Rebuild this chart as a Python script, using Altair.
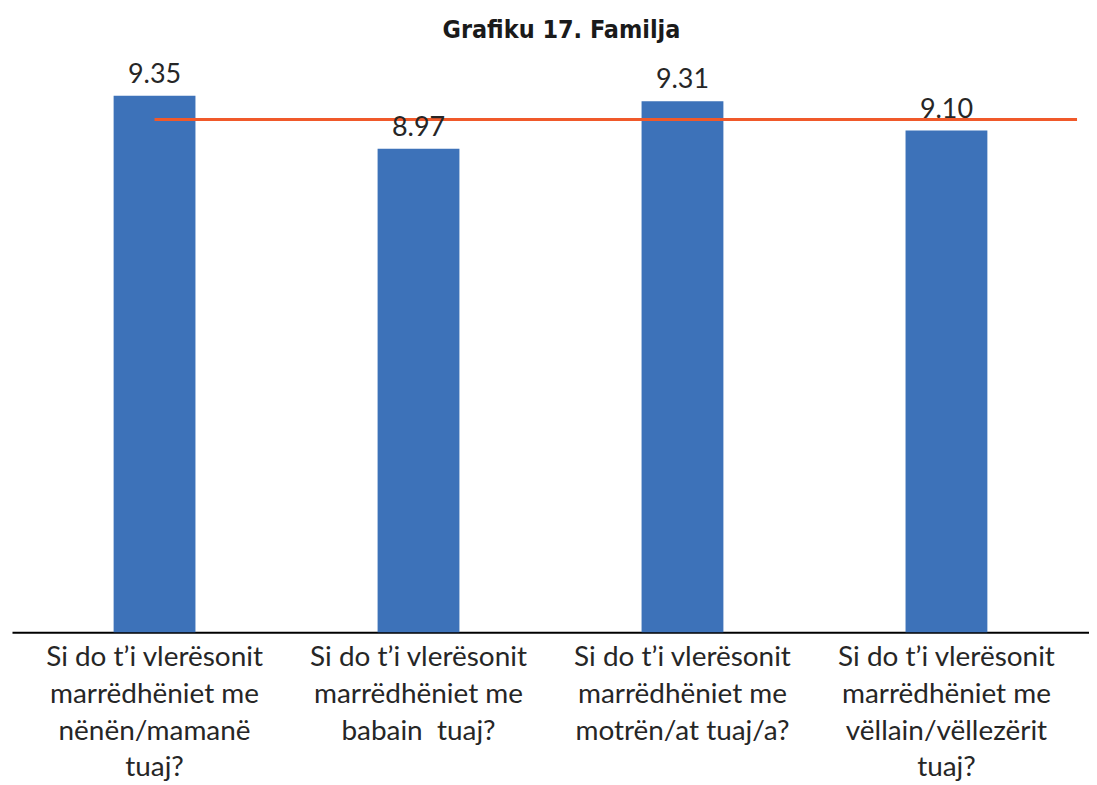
import altair as alt
import pandas as pd

categories = [
    "Si do t’i vlerësonit\nmarrëdhëniet me\nnënën/mamanë\ntuaj?",
    "Si do t’i vlerësonit\nmarrëdhëniet me\nbabain\u00a0 tuaj?",
    "Si do t’i vlerësonit\nmarrëdhëniet me\nmotrën/at tuaj/a?",
    "Si do t’i vlerësonit\nmarrëdhëniet me\nvëllain/vëllezërit\ntuaj?",
]
values = [9.35, 8.97, 9.31, 9.10]
average_level = 9.18
title_text = "Grafiku 17. Familja"

df = pd.DataFrame({"cat": categories, "value": values})
avg_df = pd.DataFrame({"cat": [categories[0]], "avg": [average_level]})

W, H = 1080, 573
y_min, y_max = 5.5, 9.6
y_scale = alt.Scale(domain=[y_min, y_max], zero=False, nice=False)
x_scale = alt.Scale(domain=categories, paddingInner=0.69, paddingOuter=0.385)

x_enc = alt.X(
    "cat:N",
    sort=categories,
    scale=x_scale,
    axis=alt.Axis(
        title=None,
        labelAngle=0,
        labelExpr="split(datum.label, '\\n')",
        labelFont="Lato",
        labelFontSize=28,
        labelColor="#262626",
        labelLineHeight=37,
        labelPadding=11,
        labelLimit=0,
        labelOverlap=False,
        ticks=False,
        grid=False,
        domainColor="#000000",
        domainWidth=2,
    ),
)

bars = alt.Chart(df).mark_bar(color="#3D72B9").encode(
    x=x_enc,
    y=alt.Y("value:Q", scale=y_scale, axis=None),
    y2=alt.Y2(datum=y_min),
)

labels = alt.Chart(df).mark_text(
    baseline="bottom", dy=-7, font="Lato", fontSize=27, color="#262626"
).encode(
    x=alt.X("cat:N", sort=categories, scale=x_scale),
    y=alt.Y("value:Q", scale=y_scale),
    text=alt.Text("value:Q", format=".2f"),
)

avg_rule = alt.Chart(avg_df).mark_rule(color="#F0592A", strokeWidth=3).encode(
    x=alt.X("cat:N", sort=categories, scale=x_scale),
    x2=alt.value(W - 12),
    y=alt.Y("avg:Q", scale=y_scale),
)

chart = (
    alt.layer(bars, avg_rule, labels)
    .properties(
        width=W,
        height=H,
        padding={"left": 4, "right": 0, "top": 8, "bottom": 0},
        title=alt.TitleParams(
            title_text,
            font="'DejaVu Sans Condensed', 'Roboto Condensed', Roboto",
            fontSize=25,
            fontWeight="bold",
            color="#1a1a1a",
            anchor="middle",
            offset=18,
            dx=11,
        ),
    )
    .configure_view(stroke=None)
)

chart.save("out.html", embed_options={"renderer": "svg", "actions": False})
